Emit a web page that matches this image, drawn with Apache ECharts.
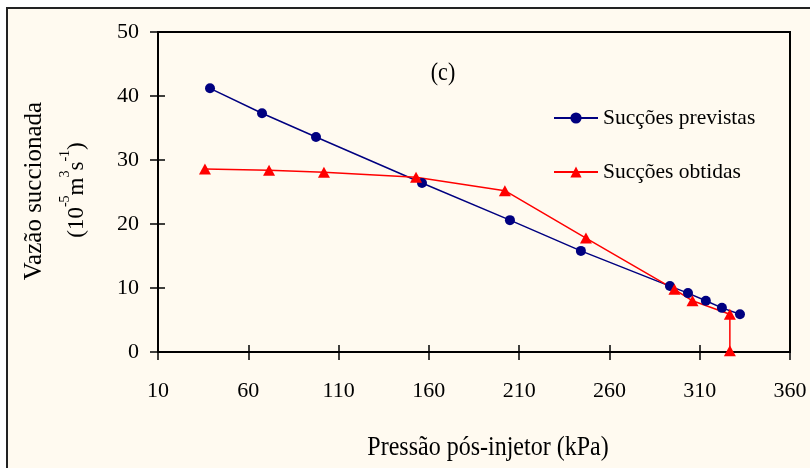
<!DOCTYPE html>
<html>
<head>
<meta charset="utf-8">
<script src="https://cdn.jsdelivr.net/npm/echarts@6/dist/echarts.min.js"></script>
<style>
html,body{margin:0;padding:0;background:#fff;}
#c{width:810px;height:468px;}
</style>
</head>
<body>
<div id="c"></div>
<script>
// ---- data ----
const pressaoPrevistas = [38.8, 67.6, 97.5, 156.2, 204.9, 244.2, 293.5, 303.5, 313.4, 322.3, 332.3];
const vazaoPrevistas   = [41.2, 37.3, 33.6, 26.4, 20.6, 15.8, 10.3, 9.2, 8.0, 6.9, 5.9];
const pressaoObtidas   = [36.0, 71.5, 101.9, 152.9, 202.1, 247.0, 296.0, 306.0, 326.7, 326.7];
const vazaoObtidas     = [28.6, 28.4, 28.1, 27.3, 25.2, 17.8, 9.8, 8.0, 5.9, 0.2];
const xTicks = [10, 60, 110, 160, 210, 260, 310, 360];
const yTicks = [0, 10, 20, 30, 40, 50];
const seriesNames = ['Sucções previstas', 'Sucções obtidas'];

const FONT = "'Liberation Serif','Times New Roman',serif";
const zip = (xs, ys) => xs.map((x, i) => [x, ys[i]]);

const chart = echarts.init(document.getElementById('c'), null, {renderer: 'canvas'});

chart.setOption({
  backgroundColor: '#ffffff',
  animation: false,
  // grid border draws the axis lines and the plot-area frame
  grid: {show: true, borderColor: '#000', borderWidth: 2, backgroundColor: 'transparent',
         left: 158, top: 32, right: 20, bottom: 116},
  xAxis: {
    type: 'value', position: 'bottom', offset: -7,
    min: xTicks[0], max: xTicks[xTicks.length - 1],
    axisLine: {show: false, onZero: false},
    axisTick: {show: true, inside: false, length: 15, lineStyle: {color: '#000', width: 1.5}, customValues: xTicks},
    axisLabel: {show: true, margin: 35, color: '#000', fontSize: 22, fontFamily: FONT, customValues: xTicks},
    splitLine: {show: false}
  },
  yAxis: {
    type: 'value', position: 'left', offset: -7,
    min: yTicks[0], max: yTicks[yTicks.length - 1],
    axisLine: {show: false, onZero: false},
    axisTick: {show: true, inside: false, length: 15, lineStyle: {color: '#000', width: 1.5}, customValues: yTicks},
    axisLabel: {show: true, margin: 26, color: '#000', fontSize: 22, fontFamily: FONT, customValues: yTicks},
    splitLine: {show: false}
  },
  legend: {
    orient: 'vertical',
    left: 553, top: 107, padding: 0,
    itemWidth: 44, itemHeight: 14, itemGap: 32,
    textStyle: {color: '#000', fontSize: 21.5, fontFamily: FONT, lineHeight: 22},
    data: seriesNames
  },
  series: [
    {
      name: seriesNames[0], type: 'line',
      data: zip(pressaoPrevistas, vazaoPrevistas),
      symbol: 'circle', symbolSize: 10,
      lineStyle: {color: '#000080', width: 1.5},
      itemStyle: {color: '#000080'}
    },
    {
      name: seriesNames[1], type: 'line',
      data: zip(pressaoObtidas, vazaoObtidas),
      symbol: 'triangle', symbolSize: [12, 11],
      lineStyle: {color: '#ff0000', width: 1.5},
      itemStyle: {color: '#ff0000'}
    }
  ],
  graphic: [
    {
      type: 'rect', silent: true, z: -100,
      shape: {x: 7, y: 8, width: 820, height: 480},
      style: {fill: '#fffaf0', stroke: '#222', lineWidth: 2}
    },
    {
      type: 'text', silent: true,
      x: 443, y: 74, scaleY: 1.12,
      style: {text: '(c)', font: '22px ' + FONT, fill: '#000', align: 'center', verticalAlign: 'middle'}
    },
    {
      type: 'text', silent: true,
      x: 488, y: 448, scaleY: 1.12,
      style: {text: 'Pressão pós-injetor (kPa)', font: '24px ' + FONT, fill: '#000', align: 'center', verticalAlign: 'middle'}
    },
    {
      type: 'text', silent: true,
      x: 34, y: 191, rotation: Math.PI / 2,
      style: {text: 'Vazão succionada', font: '25px ' + FONT, fill: '#000', align: 'center', verticalAlign: 'middle'}
    },
    {
      type: 'text', silent: true,
      x: 73, y: 190, rotation: Math.PI / 2,
      style: {
        text: '{n|(10}{s|-5}{n|m}{s|3}{n|s}{s|-1}{n|)}',
        align: 'center', verticalAlign: 'middle',
        rich: {
          n: {fontSize: 23, fontFamily: FONT, fill: '#000', color: '#000', lineHeight: 30, verticalAlign: 'bottom'},
          s: {fontSize: 14, fontFamily: FONT, fill: '#000', color: '#000', lineHeight: 14, verticalAlign: 'top'}
        }
      }
    }
  ]
});
</script>
</body>
</html>
